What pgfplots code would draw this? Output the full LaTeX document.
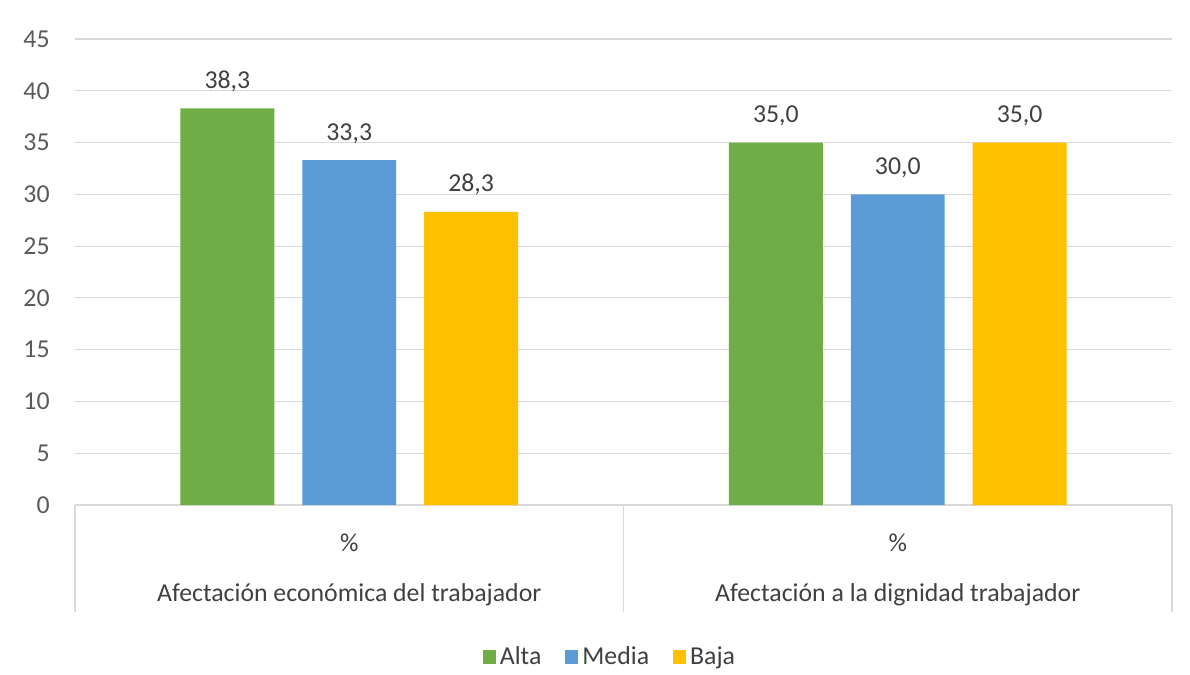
\documentclass[border=0pt]{standalone}
\usepackage{pgfplots}
\pgfplotsset{compat=1.18}
\usepackage{fontspec}
\setmainfont{Carlito}
\definecolor{cAlta}{HTML}{70AD47}
\definecolor{cMedia}{HTML}{5B9BD5}
\definecolor{cBaja}{HTML}{FFC000}
\definecolor{gridc}{HTML}{D9D9D9}
\definecolor{tickc}{HTML}{595959}
\definecolor{labc}{HTML}{404040}
\newcommand{\ff}{\fontsize{12.9}{25}\selectfont}
\begin{document}
\begin{tikzpicture}
\begin{axis}[
  name=ax,
  scale only axis,
  width=548.5pt, height=233pt,
  xmin=-0.5, xmax=1.5, ymin=0, ymax=45,
  ytick distance=5,
  ymajorgrids,
  grid style={draw=gridc, line width=0.6pt},
  axis x line*=bottom, axis y line*=left,
  x axis line style={draw=gridc, line width=0.6pt, -},
  y axis line style={draw=none},
  major tick length=0pt,
  xtick={0,1},
  xticklabels={{\%\\Afectación económica del trabajador},{\%\\Afectación a la dignidad trabajador}},
  xticklabel style={align=center, font=\ff, text=labc, anchor=north, inner sep=0pt, yshift=-14.3pt},
  yticklabel style={font=\ff, text=tickc, anchor=east, inner sep=0pt, xshift=-12.5pt},
  /pgf/number format/assume math mode=true,
  extra x ticks={-0.5,0.5,1.5},
  extra x tick labels={},
  extra x tick style={major tick length=53.5pt, tick align=outside, tick style={draw=gridc, line width=0.6pt}, xmajorgrids=false},
  ybar,
  bar width=0.1712,
  nodes near coords,
  nodes near coords style={font=\ff, text=labc, anchor=base, inner sep=0pt, yshift=10pt,
     /pgf/number format/.cd, fixed, fixed zerofill, precision=1, use comma},
  legend style={at={(0.4886,-0.326)}, anchor=center, legend columns=-1, draw=none, font=\ff, text=labc,
     /tikz/every even column/.append style={column sep=10pt}},
  legend image code/.code={\fill[#1] (0pt,-3.5pt) rectangle (6.5pt,3.5pt);},
  clip=false,
]
\addplot[fill=cAlta, draw=none, bar shift=-0.2222] coordinates {(0,38.3) (1,35.0)};
\addplot[fill=cMedia, draw=none, bar shift=0] coordinates {(0,33.3) (1,30.0)};
\addplot[fill=cBaja, draw=none, bar shift=0.2222] coordinates {(0,28.3) (1,35.0)};
\legend{Alta,Media,Baja}
\end{axis}
\pgfresetboundingbox
\useasboundingbox ([shift={(-37.5pt,-85pt)}]ax.south west) rectangle ++(595pt,337.5pt);
\end{tikzpicture}
\end{document}
